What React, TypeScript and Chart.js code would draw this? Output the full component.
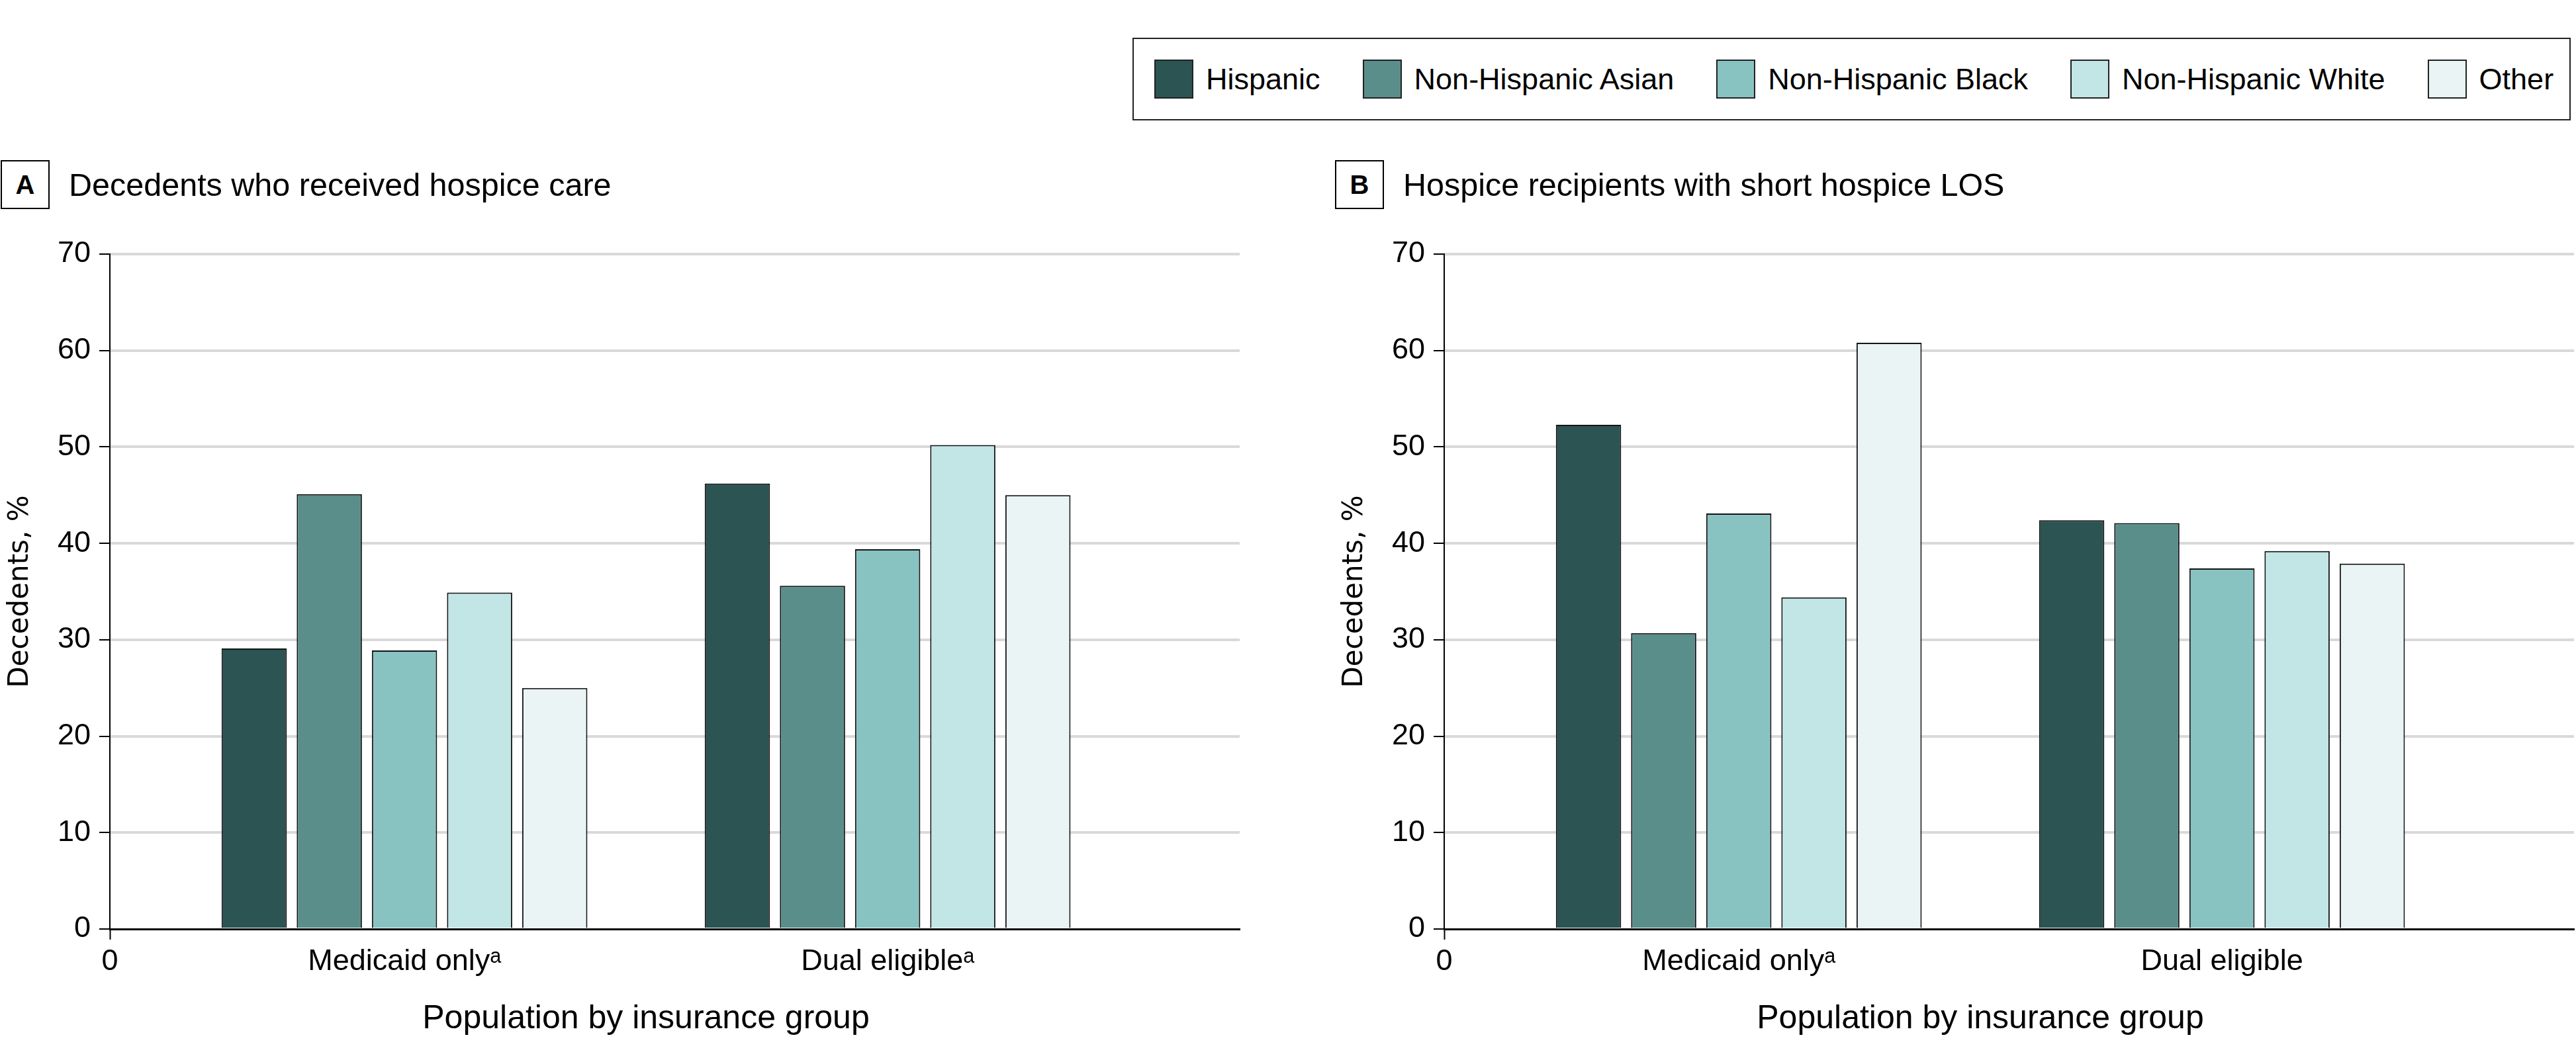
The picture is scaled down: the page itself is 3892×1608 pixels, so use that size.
import React, { useEffect, useRef } from 'react';
import { Chart, registerables } from 'chart.js';

Chart.register(...registerables);

// ---- data ----
const seriesNames = ['Hispanic', 'Non-Hispanic Asian', 'Non-Hispanic Black', 'Non-Hispanic White', 'Other'];
const seriesColors = ['#2b5453', '#5a8e8b', '#88c3c2', '#c2e6e5', '#eaf4f5'];

const groupLabelsA = ['Medicaid only\u1d43', 'Dual eligible\u1d43'];
const groupLabelsB = ['Medicaid only\u1d43', 'Dual eligible'];
// numeric positions of the two insurance groups on the x axis (origin labelled 0)
const groupX = [1, 2.64];
const xAxisMax = 3.835;
const yTickStep = 10;
const yAxisMax = 70;

// Panel A: decedents who received hospice care (%)
const hispanicA = [29.1, 46.2];
const asianA = [45.1, 35.6];
const blackA = [28.9, 39.4];
const whiteA = [34.9, 50.2];
const otherA = [25.0, 45.0];

// Panel B: hospice recipients with short hospice LOS (%)
const hispanicB = [52.3, 42.4];
const asianB = [30.7, 42.1];
const blackB = [43.1, 37.4];
const whiteB = [34.4, 39.2];
const otherB = [60.8, 37.9];

const FONT = '"Liberation Sans", Arial, sans-serif';

const xTitlePlugin = {
  id: 'xTitle',
  afterDraw(chart: any, _args: any, opts: any) {
    const { ctx, chartArea } = chart;
    ctx.save();
    ctx.font = opts.font;
    ctx.fillStyle = '#000';
    ctx.textAlign = 'center';
    ctx.textBaseline = 'alphabetic';
    ctx.fillText(opts.text, chart.width / 2, chartArea.bottom + opts.offset);
    ctx.restore();
  },
};

const CW = 1952;
const CH = 1278;

function Panel({ values, groups, left }: { values: number[][]; groups: string[]; left: number }) {
  const ref = useRef<HTMLCanvasElement>(null);
  useEffect(() => {
    const tickLabels = ['0', ...groups];
    const chart = new Chart(ref.current as HTMLCanvasElement, {
      type: 'bar',
      data: {
        datasets: seriesNames.map((name, s) => ({
          label: name,
          data: groupX.map((x, g) => ({ x, y: values[s][g] })),
          backgroundColor: seriesColors[s],
          borderColor: '#151515',
          borderWidth: 2,
          categoryPercentage: 1.2753,
          barPercentage: 0.868,
        })),
      },
      options: {
        animation: false,
        responsive: false,
        maintainAspectRatio: false,
        events: [],
        layout: { padding: { left: 0, right: 79, top: 54, bottom: 0 } },
        plugins: {
          legend: { display: false },
          tooltip: { enabled: false },
          title: { display: false },
          xTitle: { text: 'Population by insurance group', font: `50px ${FONT}`, offset: 150 },
        } as any,
        scales: {
          x: {
            type: 'linear',
            min: 0,
            max: xAxisMax,
            offset: false,
            afterBuildTicks: (scale: any) => {
              scale.ticks = [0, ...groupX].map((v) => ({ value: v }));
            },
            afterFit: (scale: any) => {
              scale.height = 204;
            },
            ticks: {
              autoSkip: false,
              maxRotation: 0,
              minRotation: 0,
              padding: 7,
              color: '#000',
              font: { family: FONT, size: 45 },
              callback: (_v: any, i: number) => tickLabels[i],
            },
            grid: {
              offset: false,
              drawOnChartArea: false,
              drawTicks: true,
              tickLength: 16,
              tickWidth: 2,
              tickColor: (ctx: any) => (ctx.index === 0 ? '#000' : 'rgba(0,0,0,0)'),
            },
            border: { color: '#000', width: 3 },
          } as any,
          y: {
            min: 0,
            max: yAxisMax,
            afterFit: (scale: any) => {
              scale.width = 166;
            },
            ticks: {
              stepSize: yTickStep,
              padding: 13,
              color: '#000',
              font: { family: FONT, size: 45 },
            },
            grid: {
              color: (ctx: any) => (ctx.tick && ctx.tick.value === 0 ? 'rgba(0,0,0,0)' : '#d9d9d9'),
              lineWidth: 4,
              tickColor: '#000',
              tickWidth: 2,
              tickLength: 16,
            },
            border: { color: '#000', width: 2 },
            title: {
              display: true,
              text: 'Decedents, %',
              color: '#000',
              font: { family: '"DejaVu Sans", sans-serif', size: 42 },
              padding: { top: 6, bottom: 0 },
            },
          },
        },
      },
      plugins: [xTitlePlugin],
    });
    return () => chart.destroy();
  }, []);
  return (
    <canvas
      ref={ref}
      width={CW}
      height={CH}
      style={{ position: 'absolute', left, top: 330, width: CW, height: CH }}
    />
  );
}

function PanelTitle({ letter, text, left }: { letter: string; text: string; left: number }) {
  return (
    <>
      <div
        style={{
          position: 'absolute',
          left,
          top: 242,
          width: 74,
          height: 74,
          boxSizing: 'border-box',
          border: '2px solid #000',
          display: 'flex',
          alignItems: 'center',
          justifyContent: 'center',
          fontWeight: 700,
          fontSize: 40,
        }}
      >
        {letter}
      </div>
      <div
        style={{
          position: 'absolute',
          left: left + 103,
          top: 242,
          height: 74,
          display: 'flex',
          alignItems: 'center',
          fontSize: 48.5,
          whiteSpace: 'nowrap',
        }}
      >
        {text}
      </div>
    </>
  );
}

export default function App() {
  const valuesA = [hispanicA, asianA, blackA, whiteA, otherA];
  const valuesB = [hispanicB, asianB, blackB, whiteB, otherB];
  return (
    <div
      style={{
        position: 'fixed',
        left: 0,
        top: 0,
        width: 3892,
        height: 1608,
        overflow: 'hidden',
        background: '#fff',
        fontFamily: FONT,
        color: '#000',
      }}
    >
      <div
        style={{
          position: 'absolute',
          left: 1711,
          top: 57,
          width: 2173,
          height: 125,
          boxSizing: 'border-box',
          border: '2px solid #222',
          display: 'flex',
          alignItems: 'center',
          paddingLeft: 31,
          fontSize: 45,
          whiteSpace: 'nowrap',
        }}
      >
        {seriesNames.map((name, i) => (
          <div key={name} style={{ display: 'flex', alignItems: 'center', marginRight: 64 }}>
            <div
              style={{
                width: 59,
                height: 59,
                boxSizing: 'border-box',
                border: '2px solid #222',
                background: seriesColors[i],
                marginRight: 19,
              }}
            />
            <span>{name}</span>
          </div>
        ))}
      </div>
      <PanelTitle letter="A" text="Decedents who received hospice care" left={1} />
      <PanelTitle letter="B" text="Hospice recipients with short hospice LOS" left={2017} />
      <Panel values={valuesA} groups={groupLabelsA} left={0} />
      <Panel values={valuesB} groups={groupLabelsB} left={2016} />
    </div>
  );
}
